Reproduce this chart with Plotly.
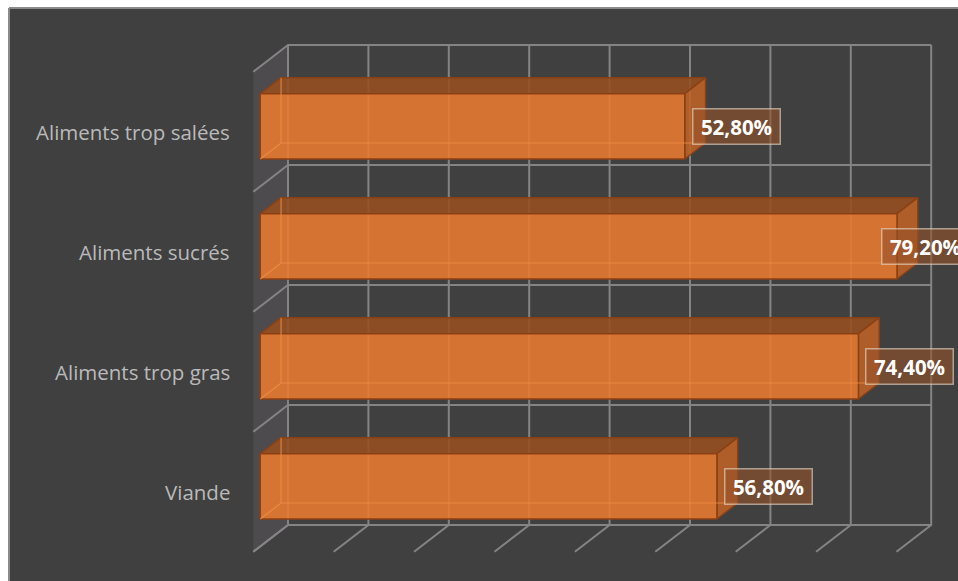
import plotly.graph_objects as go

# Survey results: share of respondents per food category
categories = ["Viande", "Aliments trop gras", "Aliments sucrés", "Aliments trop salées"]
values = [56.8, 74.4, 79.2, 52.8]
value_labels = ["56,80%", "74,40%", "79,20%", "52,80%"]
grid_values = [0, 10, 20, 30, 40, 50, 60, 70, 80]

# Oblique 3D projection, expressed in axis units
PX_PER_UNIT_X = 8.04      # pixels per percentage point
PX_PER_UNIT_Y = 120.0     # pixels per category slot
DEPTH_X = 34.7 / PX_PER_UNIT_X   # horizontal shift from back wall to front plane
DEPTH_Y = 26.7 / PX_PER_UNIT_Y   # vertical shift from back wall to front plane
BAR_FRONT, BAR_BACK = 0.2, 0.8   # bar depth span (0 = front plane, 1 = back wall)
HALF_H = 0.272                   # half bar thickness in category units

W, H = 958, 581
ML, MT = 9, 8
X0_PX, Y0_PX = 288.0, 465.0      # back-wall origin inside the figure


def proj(v, c, f):
    """Project (value, category position, depth) to 2D axis coordinates."""
    return v - DEPTH_X * (1 - f), c - DEPTH_Y * (1 - f)


def poly(points):
    xs, ys = zip(*[proj(*p) for p in points])
    return list(xs) + [xs[0]], list(ys) + [ys[0]]


fig = go.Figure()

c_lo, c_hi = -0.5, len(categories) - 0.5
vmax = grid_values[-1]

# Side wall behind the category labels
xs, ys = poly([(0, c_lo, 0), (0, c_hi, 0), (0, c_hi, 1), (0, c_lo, 1)])
fig.add_trace(go.Scatter(x=xs, y=ys, mode="lines", fill="toself",
                         fillcolor="rgba(80,76,80,0.9)", line=dict(width=0),
                         hoverinfo="skip", showlegend=False))

GRID = dict(color="#848484", width=2)

# Gridlines: back wall verticals + floor depth lines
for g in grid_values:
    xa, ya = proj(g, c_lo, 1)
    xb, yb = proj(g, c_hi, 1)
    xc, yc = proj(g, c_lo, 0)
    fig.add_trace(go.Scatter(x=[xc, xa, xb], y=[yc, ya, yb], mode="lines",
                             line=GRID, hoverinfo="skip", showlegend=False))

# Gridlines: back wall horizontals + side wall depth lines
for k in range(len(categories) + 1):
    c = c_lo + k
    xa, ya = proj(0, c, 0)
    xb, yb = proj(0, c, 1)
    xe, ye = proj(vmax, c, 1)
    fig.add_trace(go.Scatter(x=[xa, xb, xe], y=[ya, yb, ye], mode="lines",
                             line=GRID, hoverinfo="skip", showlegend=False))

EDGE = dict(color="#8B4014", width=1.5)
FRONT = "rgba(232,122,48,0.88)"
TOP = "rgba(150,78,33,0.88)"
SIDE = "rgba(190,98,38,0.88)"
HIDDEN = dict(color="rgba(245,145,70,0.75)", width=1.2)

for i, v in enumerate(values):
    c = i
    lo, hi = c - HALF_H, c + HALF_H
    f0, f1 = BAR_FRONT, BAR_BACK
    faces = [
        ([(0, hi, f0), (v, hi, f0), (v, hi, f1), (0, hi, f1)], TOP),
        ([(v, lo, f0), (v, hi, f0), (v, hi, f1), (v, lo, f1)], SIDE),
        ([(0, lo, f0), (v, lo, f0), (v, hi, f0), (0, hi, f0)], FRONT),
    ]
    for pts, col in faces:
        xs, ys = poly(pts)
        fig.add_trace(go.Scatter(x=xs, y=ys, mode="lines", fill="toself",
                                 fillcolor=col, line=EDGE,
                                 hoverinfo="skip", showlegend=False))
    # back edges seen through the translucent faces
    hidden = [(0, lo, f0), (0, lo, f1), (v, lo, f1), (0, lo, f1), (0, hi, f1)]
    hx, hy = zip(*[proj(*p) for p in hidden])
    fig.add_trace(go.Scatter(x=list(hx), y=list(hy), mode="lines", line=HIDDEN,
                             hoverinfo="skip", showlegend=False))

# Category labels, right-aligned against the front plane
for i, name in enumerate(categories):
    x, y = proj(0, i, 0)
    fig.add_annotation(x=x, y=y, text=name, showarrow=False, xanchor="right",
                       yanchor="middle", xshift=-21,
                       font=dict(family="Open Sans", size=20.5, color="#bababa"))

# Value labels in boxes beside the bar ends, kept inside the chart area
BOX_W = 89
max_left = (970 - BOX_W - X0_PX) / PX_PER_UNIT_X
for i, (v, lab) in enumerate(zip(values, value_labels)):
    x, y = proj(v, i, BAR_FRONT)
    x_left = min(x + 7 / PX_PER_UNIT_X, max_left)
    fig.add_annotation(x=x_left, y=y, text=f"<b>{lab}</b>", showarrow=False,
                       xanchor="left", yanchor="middle", width=84, height=32,
                       borderpad=1, borderwidth=1.5,
                       bordercolor="rgba(235,220,205,0.6)",
                       bgcolor="rgba(150,82,42,0.6)",
                       font=dict(family="Open Sans", size=20.5, color="#ffffff"))

# Chart frame (top and left edges)
fig.add_shape(type="line", xref="paper", yref="paper", x0=0, x1=1, y0=1, y1=1,
              line=dict(color="#8a8a8a", width=2))
fig.add_shape(type="line", xref="paper", yref="paper", x0=0, x1=0, y0=0, y1=1,
              line=dict(color="#8a8a8a", width=2))

fig.update_layout(
    width=W, height=H,
    margin=dict(l=ML, r=0, t=MT, b=0),
    paper_bgcolor="#ffffff",
    plot_bgcolor="#404040",
    showlegend=False,
    xaxis=dict(range=[(ML - X0_PX) / PX_PER_UNIT_X, (W - X0_PX) / PX_PER_UNIT_X],
               visible=False, fixedrange=True),
    yaxis=dict(range=[(Y0_PX - H) / PX_PER_UNIT_Y, (Y0_PX - MT) / PX_PER_UNIT_Y],
               visible=False, fixedrange=True),
)

fig.write_html("out.html")
